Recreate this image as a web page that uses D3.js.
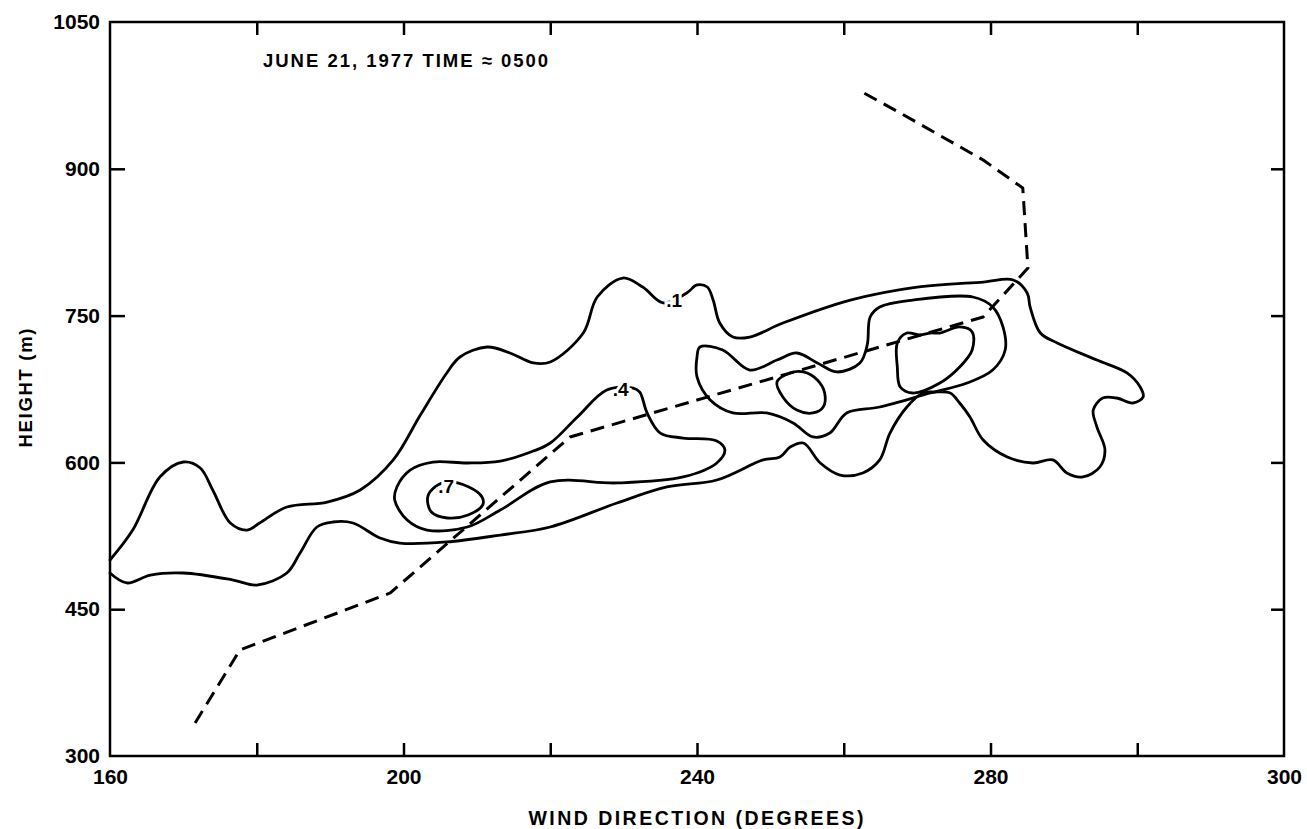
<!DOCTYPE html>
<html>
<head>
<meta charset="utf-8">
<script src="https://cdn.jsdelivr.net/npm/d3@7"></script>
<style>
  html, body { margin: 0; padding: 0; background: #fff; }
  svg { display: block; }
  text { font-family: "Liberation Sans", Arial, Helvetica, sans-serif; font-weight: bold; fill: #000; }
</style>
</head>
<body>
<svg id="chart" width="1307" height="829"></svg>
<script>
// ---------------- DATA ----------------
const xDomain = [160, 320];
const yDomain = [300, 1050];
const xMinorTicks = [180, 200, 220, 240, 260, 280, 300];
const xLabelValues = [160, 200, 240, 280, 320];
const xLabelText = ["160", "200", "240", "280", "300"];
const yTickValues = [300, 450, 600, 750, 900, 1050];
const yInnerTicks = [450, 600, 750, 900];

const titleText = "JUNE 21, 1977 TIME \u2248 0500";
const xAxisTitle = "WIND DIRECTION  (DEGREES)";
const yAxisTitle = "HEIGHT (m)";

// contour 0.1 (open at left axis)
const contour01 = [
  [160,500.3],[163.1,530.9],[166.8,585.1],[170.0,600.4],[172.3,594.3],[174.0,571.8],
  [176.4,538.1],[178.7,530.9],[180.4,538.1],[184.1,554.4],[189.6,559.5],[194.1,571.8],
  [198.6,602.5],[202.3,648.4],[205.9,691.3],[207.7,707.7],[211.4,717.9],[214.5,711.8],
  [217.7,701.6],[220.0,702.6],[224.5,732.2],[226.4,769.0],[229.9,788.4],[232.6,779.2],
  [235.4,762.9],[238.6,773.1],[240.0,781.3],[241.4,779.2],[242.2,765.9],[243.1,742.4],
  [244.9,728.1],[247.2,728.1],[251.7,742.4],[260.9,765.9],[270.0,779.2],[279.0,784.3],
  [283.1,786.4],[285.0,773.1],[285.4,758.8],[286.8,732.2],[289.1,722.0],[294.5,704.6],
  [298.6,691.4],[300.4,677.0],[300.8,666.8],[299.4,660.7],[297.2,665.8],[295.3,665.8],
  [294.0,653.5],[294.5,636.2],[295.6,612.7],[294.9,595.3],[292.6,585.1],[290.4,589.2],
  [288.5,602.5],[285.8,599.4],[282.3,605.5],[279.0,622.9],[277.2,646.4],[275.8,660.7],
  [274.5,670.9],[272.4,671.9],[270.8,670.9],[268.6,656.6],[266.3,630.0],[264.9,602.5],
  [262.6,589.2],[259.5,587.1],[256.8,599.4],[254.5,619.8],[252.7,615.7],[251.3,605.5],
  [249.0,602.5],[242.7,582.0],[235.9,574.9],[229.1,558.5],[220.0,534.0],[213.2,525.8],
  [205.9,518.7],[199.5,517.6],[196.8,522.8],[193.1,538.1],[190.4,539.1],[188.2,534.0],
  [185.9,507.4],[184.1,487.0],[180.0,474.7],[176.8,479.8],[170.0,487.0],[165.5,484.9],
  [162.3,476.8],[160,487.0]
];

// contour 0.4, left (closed)
const contour04a = [
  [204.0,600.4],[208.7,599.4],[213.2,601.4],[217.7,611.6],[220.0,619.8],[223.7,646.4],
  [227.7,674.0],[231.3,676.0],[232.2,671.9],[233.2,650.5],[235.0,630.0],[238.1,624.9],
  [242.7,621.9],[243.8,612.7],[242.7,599.4],[238.1,585.1],[229.1,579.0],[220.0,580.0],
  [213.2,551.4],[208.7,534.0],[203.2,530.9],[200.5,541.1],[198.8,561.6],[199.1,574.9],
  [200.9,592.2]
];

// contour 0.4, right (closed)
const contour04b = [
  [240.4,717.9],[243.5,714.9],[247.2,694.4],[250.9,704.6],[253.6,711.8],[256.4,701.6],
  [259.1,692.4],[262.2,701.6],[263.2,720.0],[263.6,748.6],[264.9,758.8],[269.4,765.9],
  [277.6,769.0],[280.3,758.8],[281.7,738.4],[282.0,714.9],[280.3,694.4],[276.8,681.1],
  [271.8,670.9],[264.9,656.6],[260.4,650.5],[258.1,630.0],[255.8,626.0],[253.1,640.3],
  [249.5,650.5],[244.9,650.5],[241.8,663.8],[240.0,687.3],[240.0,707.7]
];

// contour 0.7 loops (closed)
const contour07a = [
  [208.9,574.9],[210.7,564.7],[210.8,556.5],[208.8,546.3],[206.0,543.2],[203.8,549.3],
  [203.3,564.7],[204.3,574.9],[206.0,580.0]
];
const contour07b = [
  [250.9,682.2],[252.7,691.3],[254.5,692.4],[256.4,684.2],[257.4,670.9],[257.2,656.6],
  [255.8,650.5],[253.6,653.5],[251.7,666.8]
];
const contour07c = [
  [267.3,722.0],[268.6,732.2],[270.4,730.2],[271.8,732.2],[273.1,732.2],[275.8,738.4],
  [277.5,733.3],[277.5,714.9],[275.8,697.5],[273.1,681.1],[269.4,670.9],[267.7,677.0],
  [267.3,697.5]
];

// wind direction profile (dashed)
const windProfile = [
  [171.6,333.7],[177.7,408.3],[198.2,466.6],[222.7,626.0],[279.0,748.6],[285.1,798.6],
  [284.4,880.4],[279.0,909.0],[267.7,957.0],[262.5,978.5]
];

// contour labels
const contourLabels = [
  {text: ".1", x: 236.9, y: 766},
  {text: ".4", x: 229.6, y: 675},
  {text: ".7", x: 205.8, y: 576}
];

// ---------------- CHART ----------------
const svg = d3.select("#chart");
const x = d3.scaleLinear().domain(xDomain).range([110, 1284]);
const y = d3.scaleLinear().domain(yDomain).range([756, 22]);

const g = svg.append("g");

// frame
g.append("rect")
  .attr("x", x(xDomain[0])).attr("y", y(yDomain[1]))
  .attr("width", x(xDomain[1]) - x(xDomain[0]))
  .attr("height", y(yDomain[0]) - y(yDomain[1]))
  .attr("fill", "none").attr("stroke", "#000").attr("stroke-width", 2.5);

function styleTicks(sel) {
  sel.select(".domain").remove();
  sel.selectAll(".tick line").attr("stroke", "#000").attr("stroke-width", 2.5);
}

// inner tick marks
g.append("g").attr("transform", `translate(0,${y(300)})`)
  .call(d3.axisBottom(x).tickValues(xMinorTicks).tickSize(-13).tickFormat(""))
  .call(styleTicks);
g.append("g").attr("transform", `translate(0,${y(1050)})`)
  .call(d3.axisTop(x).tickValues(xMinorTicks).tickSize(-13).tickFormat(""))
  .call(styleTicks);
g.append("g").attr("transform", `translate(${x(160)},0)`)
  .call(d3.axisLeft(y).tickValues(yInnerTicks).tickSize(-15).tickFormat(""))
  .call(styleTicks);
g.append("g").attr("transform", `translate(${x(320)},0)`)
  .call(d3.axisRight(y).tickValues(yInnerTicks).tickSize(-13).tickFormat(""))
  .call(styleTicks);

// tick labels
const xLab = g.append("g").attr("transform", `translate(0,${y(300)})`)
  .call(d3.axisBottom(x).tickValues(xLabelValues).tickSize(0).tickPadding(13)
    .tickFormat((d, i) => xLabelText[i]));
xLab.select(".domain").remove();
xLab.selectAll("text").attr("font-size", 21).attr("font-family", null).style("font-weight", "bold");

const yLab = g.append("g").attr("transform", `translate(${x(160)},0)`)
  .call(d3.axisLeft(y).tickValues(yTickValues).tickSize(0).tickPadding(10)
    .tickFormat(d3.format("d")));
yLab.select(".domain").remove();
yLab.selectAll("text").attr("font-size", 21).attr("font-family", null).style("font-weight", "bold");

// contours
const openLine = d3.line().x(d => x(d[0])).y(d => y(d[1])).curve(d3.curveCatmullRom.alpha(0.5));
const closedLine = d3.line().x(d => x(d[0])).y(d => y(d[1])).curve(d3.curveCatmullRomClosed.alpha(0.5));

const contourG = g.append("g").attr("fill", "none").attr("stroke", "#000")
  .attr("stroke-width", 2.8).attr("stroke-linejoin", "round").attr("stroke-linecap", "round");
contourG.append("path").attr("d", openLine(contour01));
[contour04a, contour04b, contour07a, contour07b, contour07c].forEach(c => {
  contourG.append("path").attr("d", closedLine(c));
});

// wind profile
g.append("path")
  .attr("d", d3.line().x(d => x(d[0])).y(d => y(d[1]))(windProfile))
  .attr("fill", "none").attr("stroke", "#000").attr("stroke-width", 3)
  .attr("stroke-dasharray", "14,8").attr("stroke-linejoin", "round");

// contour labels with white halo to break the line
g.selectAll(".clab").data(contourLabels).enter().append("text")
  .attr("class", "clab")
  .attr("x", d => x(d.x)).attr("y", d => y(d.y))
  .attr("text-anchor", "middle").attr("dy", "0.36em")
  .attr("font-size", 19)
  .attr("stroke", "#fff").attr("stroke-width", 6).attr("paint-order", "stroke")
  .text(d => d.text);

// title
g.append("text")
  .attr("x", 263).attr("y", 67)
  .attr("font-size", 18.5)
  .attr("textLength", 285).attr("lengthAdjust", "spacing")
  .text(titleText);

// axis titles
g.append("text")
  .attr("x", (x(160) + x(320)) / 2 - 1).attr("y", 825)
  .attr("text-anchor", "middle").attr("font-size", 19.5)
  .attr("textLength", 335).attr("lengthAdjust", "spacing")
  .text(xAxisTitle);

g.append("text")
  .attr("transform", `translate(32,${388}) rotate(-90)`)
  .attr("text-anchor", "middle").attr("font-size", 18.5)
  .attr("textLength", 119).attr("lengthAdjust", "spacing")
  .text(yAxisTitle);
</script>
</body>
</html>
